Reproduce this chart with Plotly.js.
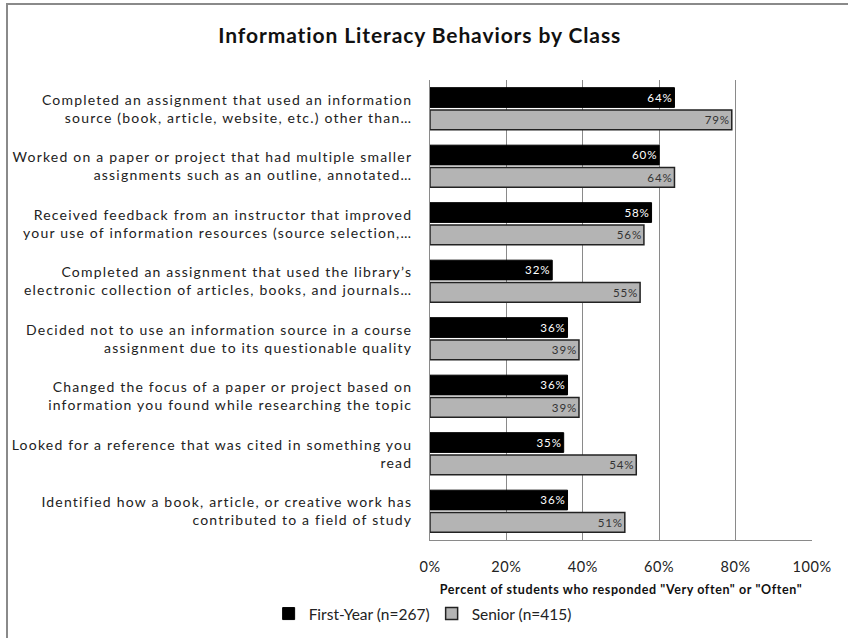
<!DOCTYPE html>
<html>
<head>
<meta charset="utf-8">
<script src="https://cdn.plot.ly/plotly-3.0.1.min.js"></script>
<style>
  html, body { margin: 0; padding: 0; background: #fff; }
  #chart { width: 848px; height: 638px; }
  #chart .ytick text { letter-spacing: 1.2px; }
  #chart .xtick text { letter-spacing: 0.6px; }
  #chart .gtitle { letter-spacing: 0.9px; }
  #chart .xtitle { letter-spacing: 0.6px; }
  #chart .bartext { letter-spacing: 1px; }
</style>
</head>
<body>
<div id="chart"></div>
<script>
const categories = [
  "Completed an assignment that used an information<br>source (book, article, website, etc.) other than…",
  "Worked on a paper or project that had multiple smaller<br>assignments such as an outline, annotated…",
  "Received feedback from an instructor that improved<br>your use of information resources (source selection,…",
  "Completed an assignment that used the library’s<br>electronic collection of articles, books, and journals…",
  "Decided not to use an information source in a course<br>assignment due to its questionable quality",
  "Changed the focus of a paper or project based on<br>information you found while researching the topic",
  "Looked for a reference that was cited in something you<br>read",
  "Identified how a book, article, or creative work has<br>contributed to a field of study"
];
const firstYear = [64, 60, 58, 32, 36, 36, 35, 36];
const senior = [79, 64, 56, 55, 39, 39, 54, 51];
const seriesNames = ["First-Year (n=267)", "Senior (n=415)"];
const tickVals = [0, 20, 40, 60, 80, 100];
const tickText = ["0%", "20%", "40%", "60%", "80%", "100%"];

const FONT = "Lato, 'Open Sans', sans-serif";

const traces = [
  {
    type: "bar", orientation: "h", name: seriesNames[0],
    y: categories, x: firstYear,
    text: firstYear.map(v => v + "%"),
    textposition: "inside", insidetextanchor: "end",
    textfont: { family: FONT, size: 13.5, color: "#ffffff" },
    marker: { color: "#000000", line: { color: "#000000", width: 1 } },
    hoverinfo: "x+name"
  },
  {
    type: "bar", orientation: "h", name: seriesNames[1],
    y: categories, x: senior,
    text: senior.map(v => v + "%"),
    textposition: "inside", insidetextanchor: "end",
    textfont: { family: FONT, size: 13.5, color: "#333333" },
    marker: { color: "#b4b4b4", line: { color: "#222222", width: 1.5 } },
    hoverinfo: "x+name"
  }
];

const layout = {
  width: 848, height: 638,
  paper_bgcolor: "#ffffff", plot_bgcolor: "#ffffff",
  font: { family: FONT, color: "#222222" },
  margin: { l: 430, r: 36, t: 80, b: 98, pad: 0 },
  title: {
    text: "Information Literacy Behaviors by Class",
    font: { family: FONT, size: 21, color: "#111111", weight: "bold" },
    x: 0.495, xref: "container", xanchor: "center",
    y: 1 - 36 / 638, yref: "container", yanchor: "middle"
  },
  barmode: "group",
  bargap: 0.22,
  bargroupgap: 0.12,
  xaxis: {
    range: [0, 100],
    tickvals: tickVals, ticktext: tickText,
    tickfont: { family: FONT, size: 14.5, color: "#222222" },
    showgrid: true, gridcolor: "#8a8a8a", gridwidth: 1,
    zeroline: false,
    showline: true, linecolor: "#8a8a8a", linewidth: 1,
    ticks: "", ticklabelstandoff: 14,
    fixedrange: true,
    title: {
      text: "Percent of students who responded \"Very often\" or \"Often\"",
      font: { family: FONT, size: 12.5, color: "#111111", weight: "bold" },
      standoff: 12
    }
  },
  yaxis: {
    autorange: "reversed",
    type: "category",
    tickfont: { family: FONT, size: 14, color: "#222222" },
    showgrid: false, zeroline: false,
    showline: true, linecolor: "#8a8a8a", linewidth: 1,
    ticks: "", ticklabelstandoff: 14,
    fixedrange: true
  },
  showlegend: true,
  legend: {
    orientation: "h",
    x: 0.509, xref: "container", xanchor: "center",
    y: 1 - 614 / 638, yref: "container", yanchor: "middle",
    font: { family: FONT, size: 15.5, color: "#222222" },
    itemwidth: 30, tracegroupgap: 0,
    entrywidth: 118, entrywidthmode: "pixels",
    traceorder: "normal"
  },
  shapes: [
    { type: "line", xref: "paper", yref: "paper",
      x0: (6 - 430) / 382, x1: (860 - 430) / 382,
      y0: (540 - 4) / 460, y1: (540 - 4) / 460,
      line: { color: "#8a8a8a", width: 2 } },
    { type: "line", xref: "paper", yref: "paper",
      x0: (7 - 430) / 382, x1: (7 - 430) / 382,
      y0: (540 - 4) / 460, y1: (540 - 660) / 460,
      line: { color: "#8a8a8a", width: 2 } }
  ]
};

Plotly.newPlot("chart", traces, layout, { displayModeBar: false, staticPlot: true });
</script>
</body>
</html>
